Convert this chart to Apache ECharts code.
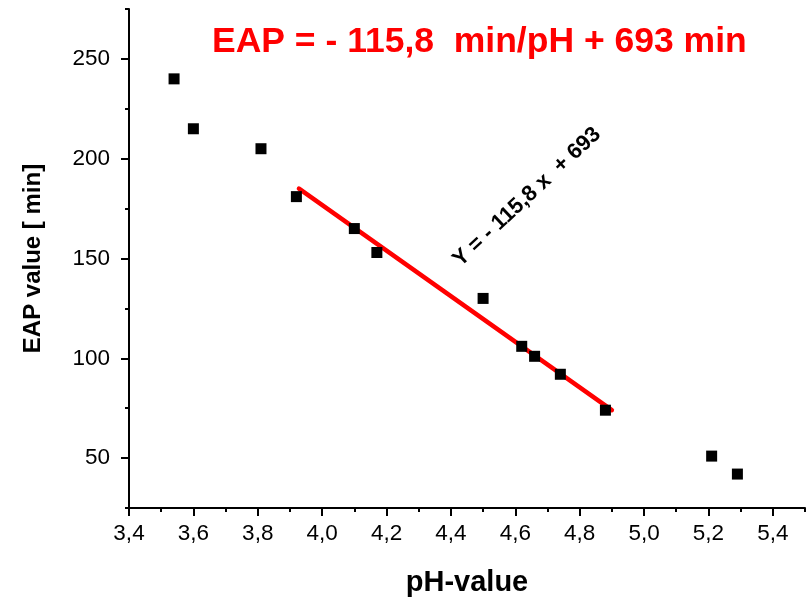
<!DOCTYPE html>
<html>
<head>
<meta charset="utf-8">
<script src="https://cdn.jsdelivr.net/npm/echarts@6/dist/echarts.min.js"></script>
<style>html,body{margin:0;padding:0;background:#fff}#c{width:810px;height:599px}</style>
</head>
<body>
<div id="c"></div>
<script>
// pH values and EAP values (minutes)
var phValues = [3.54, 3.60, 3.81, 3.92, 4.10, 4.17, 4.50, 4.62, 4.66, 4.74, 4.88, 5.21, 5.29];
var eapValues = [240, 215, 205, 181, 165, 153, 130, 106, 101, 92, 74, 51, 42];
// fitted line end points (pH, EAP)
var fitX = [3.928, 4.90];
var fitY = [185, 74];
var xTickLabels = [3.4, 3.6, 3.8, 4.0, 4.2, 4.4, 4.6, 4.8, 5.0, 5.2, 5.4];
var yTickLabels = [50, 100, 150, 200, 250];
var titleText = 'EAP = - 115,8  min/pH + 693 min';
var fitText = 'Y = - 115,8 x  + 693';

var chart = echarts.init(document.getElementById('c'));
var font = 'Liberation Sans, Arial, sans-serif';
var grid = {left: 129, right: 5, top: 9, bottom: 91, containLabel: false, outerBoundsMode: 'none'};
var option = {
  animation: false,
  grid: grid,
  xAxis: [{
    type: 'value', min: 3.4, max: 5.5,
    name: 'pH-value', nameLocation: 'middle', nameGap: 60,
    nameTextStyle: {fontFamily: font, fontSize: 29, fontWeight: 'bold', color: '#000'},
    axisLine: {show: true, onZero: false, lineStyle: {color: '#000', width: 2}},
    axisTick: {show: true, length: 8, lineStyle: {color: '#000', width: 2}, customValues: xTickLabels},
    axisLabel: {customValues: xTickLabels, fontFamily: font, fontSize: 22.5, color: '#000', margin: 14,
      formatter: function (v) { return v.toFixed(1).replace('.', ','); }},
    splitLine: {show: false}
  }, {
    type: 'value', min: 3.4, max: 5.5, interval: 0.1, position: 'bottom',
    axisLine: {show: false},
    axisTick: {show: true, length: 4, lineStyle: {color: '#000', width: 2}},
    axisLabel: {show: false}, splitLine: {show: false}
  }],
  yAxis: [{
    type: 'value', min: 25, max: 275,
    name: 'EAP value [ min]', nameLocation: 'middle', nameGap: 84,
    nameTextStyle: {fontFamily: font, fontSize: 24, fontWeight: 'bold', color: '#000'},
    axisLine: {show: true, onZero: false, lineStyle: {color: '#000', width: 2}},
    axisTick: {show: true, length: 8, lineStyle: {color: '#000', width: 2}, customValues: yTickLabels},
    axisLabel: {customValues: yTickLabels, fontFamily: font, fontSize: 22.5, color: '#000', margin: 19},
    splitLine: {show: false}
  }, {
    type: 'value', min: 25, max: 275, interval: 25, position: 'left',
    axisLine: {show: false},
    axisTick: {show: true, length: 4, lineStyle: {color: '#000', width: 2}},
    axisLabel: {show: false}, splitLine: {show: false}
  }],
  series: [{
    type: 'line', xAxisIndex: 0, yAxisIndex: 0,
    data: fitX.map(function (x, i) { return [x, fitY[i]]; }),
    showSymbol: false, symbol: 'none',
    lineStyle: {color: '#ff0000', width: 4.5, cap: 'round'}, z: 2
  }, {
    type: 'scatter', xAxisIndex: 0, yAxisIndex: 0,
    data: phValues.map(function (x, i) { return [x, eapValues[i]]; }),
    symbol: 'rect', symbolSize: 11,
    itemStyle: {color: '#000', opacity: 1}, z: 3
  }],
  graphic: [{
    type: 'text', left: 212, top: 24,
    style: {text: titleText, fill: '#ff0000', font: 'bold 35.5px ' + font}
  }, {
    type: 'text', x: 527, y: 197, rotation: 43 * Math.PI / 180,
    style: {text: fitText, fill: '#000', font: 'bold 22px ' + font, align: 'center', verticalAlign: 'middle'}
  }]
};
chart.setOption(option);
</script>
</body>
</html>
